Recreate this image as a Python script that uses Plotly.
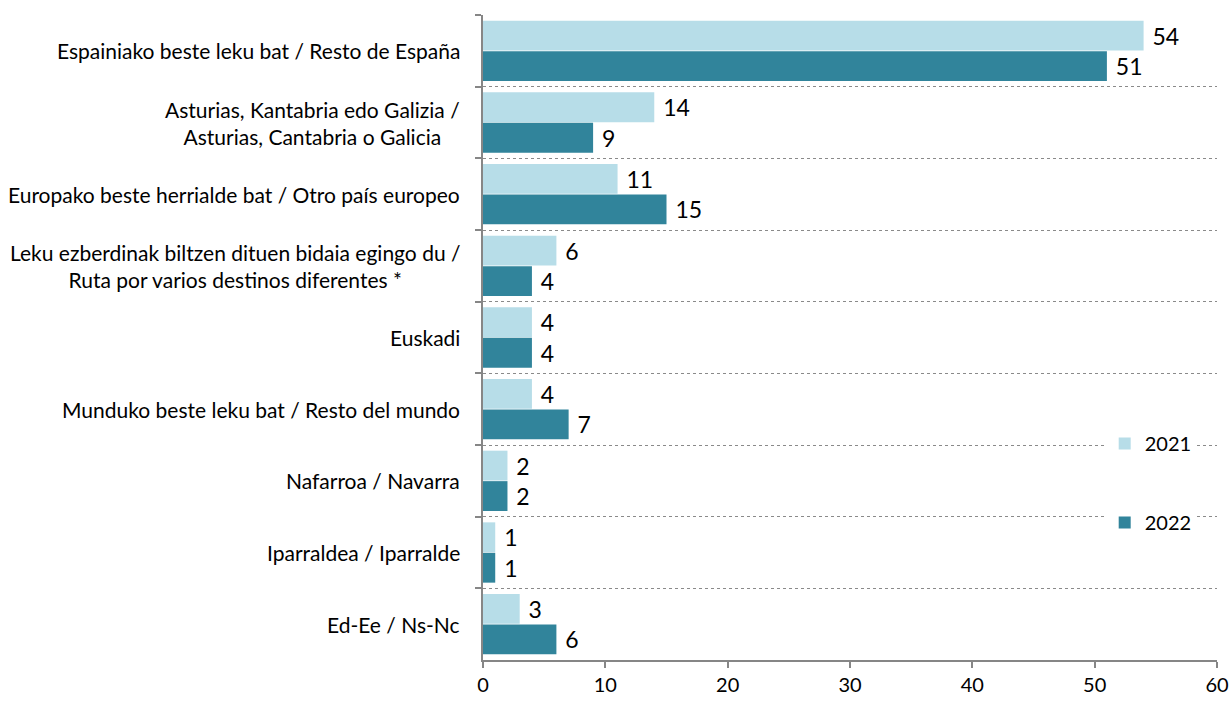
import plotly.graph_objects as go

categories = [
    "Espainiako beste leku bat / Resto de España",
    "Asturias, Kantabria edo Galizia /<br>Asturias, Cantabria o Galicia",
    "Europako beste herrialde bat / Otro país europeo",
    "Leku ezberdinak biltzen dituen bidaia egingo du /<br>Ruta por varios destinos diferentes *",
    "Euskadi",
    "Munduko beste leku bat / Resto del mundo",
    "Nafarroa / Navarra",
    "Iparraldea / Iparralde",
    "Ed-Ee / Ns-Nc",
]
values_2021 = [54, 14, 11, 6, 4, 4, 2, 1, 3]
values_2022 = [51, 9, 15, 4, 4, 7, 2, 1, 6]
x_ticks = [0, 10, 20, 30, 40, 50, 60]

FONT = "Lato"
fig = go.Figure()
for name, vals, color in [("2021", values_2021, "#B7DDE8"), ("2022", values_2022, "#31849B")]:
    fig.add_trace(go.Bar(
        y=categories, x=vals, name=name, orientation="h",
        marker=dict(color=color, line=dict(width=0)),
        text=[f" {v}" for v in vals], textposition="outside",
        textfont=dict(size=23, color="#000000", family=FONT),
        cliponaxis=False, legendgroup=name,
    ))

for c in categories:
    fig.add_annotation(
        x=-0.028, xref="paper", y=c, yref="y", text=c, showarrow=False,
        xanchor="right", align="center",
        font=dict(size=21, color="#000000", family=FONT),
    )

fig.update_layout(
    width=1231, height=701,
    margin=dict(l=483, r=14, t=15, b=41, autoexpand=False),
    paper_bgcolor="white", plot_bgcolor="white",
    barmode="group", bargap=0.15, bargroupgap=0.02,
    font=dict(family=FONT, size=20, color="#000000"),
    showlegend=True,
    legend=dict(
        x=0.847, y=0.366, xanchor="left", yanchor="top",
        bgcolor="white", font=dict(size=20, color="#000000", family=FONT),
        tracegroupgap=50, traceorder="grouped", itemwidth=30,
    ),
    xaxis=dict(
        range=[0, 60], tickvals=x_ticks, showgrid=False, zeroline=False,
        showline=True, linecolor="#868686", linewidth=1.5, automargin=False,
        ticks="outside", ticklen=6, tickcolor="#868686", tickwidth=1.5,
        tickfont=dict(size=20, family=FONT, color="#000000"),
    ),
    yaxis=dict(
        autorange="reversed", tickson="boundaries", showticklabels=False,
        ticks="outside", ticklen=6, tickcolor="#868686", tickwidth=1.5,
        showline=True, linecolor="#868686", linewidth=1.5, automargin=False,
        showgrid=True, gridcolor="#8a8a8a", griddash="dot", gridwidth=1,
    ),
)
# remove the default 8px page margin so the 1231x701 figure fills the window exactly
fig.write_html("out.html", config={"displayModeBar": False},
               post_script="document.body.style.margin='0';")
